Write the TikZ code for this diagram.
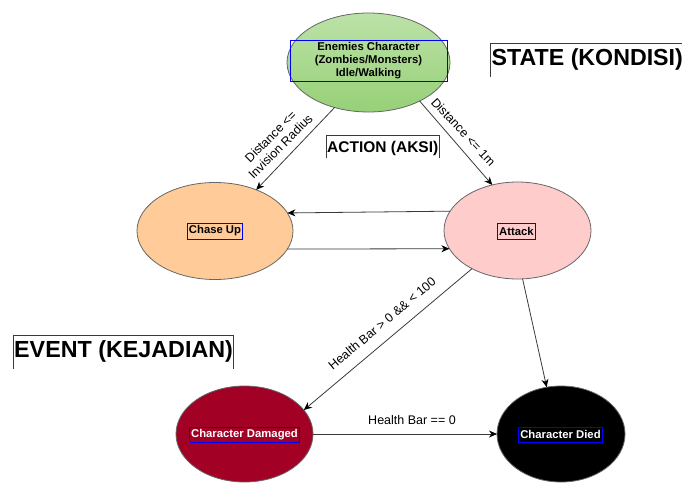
\documentclass[tikz,border=0pt]{standalone}
\usepackage{fontspec}
\setmainfont{Liberation Sans}
\usetikzlibrary{shapes.geometric,arrows.meta}
\definecolor{greentop}{HTML}{BCE2A8}
\definecolor{greenbot}{HTML}{97D077}
\definecolor{chasefill}{HTML}{FFCC99}
\definecolor{attackfill}{HTML}{FFCCCC}
\definecolor{damfill}{HTML}{A20025}
\definecolor{edgegray}{HTML}{666666}
\definecolor{linegray}{HTML}{3A3A3A}
\definecolor{txtbox}{HTML}{0000FF}
\begin{document}
\begin{tikzpicture}[x=1pt,y=-1pt,
  ell/.style={ellipse, draw=edgegray, line width=0.8pt, inner sep=0pt, outer sep=0pt},
  tbox/.style={draw=txtbox, line width=0.9pt, inner xsep=1.5pt, inner ysep=1pt, minimum height=16pt,
    font=\fontsize{11.3}{13}\selectfont\bfseries, align=center},
  conn/.style={draw=linegray, line width=0.8pt, -{Stealth[length=8pt,width=7pt,inset=2.5pt,black]}},
  lbl/.style={font=\fontsize{12.5}{14}\selectfont, inner sep=0pt, align=center},
  head/.style={anchor=base west, inner sep=0pt, font=\bfseries},
  hline/.style={draw=linegray, line width=0.9pt}]
\useasboundingbox (0,0) rectangle (682,482);

% ellipses
\node[ell, minimum width=163pt, minimum height=99pt, top color=greentop, bottom color=greenbot] (g) at (368.5,62.5) {};
\node[ell, minimum width=156pt, minimum height=97pt, fill=chasefill] (c) at (215,231) {};
\node[ell, minimum width=147pt, minimum height=97pt, fill=attackfill] (a) at (517.5,230.5) {};
\node[ell, minimum width=137pt, minimum height=96pt, fill=damfill] (d) at (244.5,434) {};
\node[ell, minimum width=128pt, minimum height=96pt, fill=black] (x) at (561,434) {};

% text boxes
\node[tbox, minimum width=157pt, minimum height=41pt] (gt) at (368.5,60.5) {Enemies Character\\(Zombies/Monsters)\\Idle/Walking};
\node[tbox] (ct) at (215,231) {Chase Up};
\node[tbox] (at) at (516.5,231) {Attack};
\node[tbox, text=white, minimum height=15pt] (dt) at (244.5,434.5) {Character Damaged};
\node[tbox, text=white, minimum height=15pt] (xt) at (560.5,434.5) {Character Died};

% connectors
\draw[conn] (g.233.6) -- (c.45.3);
\draw[conn] (g.-37.1) -- (a.119.7);
\draw[conn] (a.164.7) -- (c.14.8);
\draw[conn] (c.-14.4) -- (a.195.7);
\draw[conn] (a.220.2) -- (d.22.3);
\draw[conn] (a.-84) -- (x.107.4);
\draw[conn] (d.east) -- (x.west);

% connector labels
\node[lbl, rotate=45] (l1) at (275.5,141.5) {Distance <=\\Invision Radius};
\node[lbl, rotate=-47] (l2) at (463.5,132) {Distance <= 1m};
\node[lbl, rotate=40] (l3) at (382,323.5) {Health Bar > 0 \&\& < 100};
\node[lbl] (l4) at (412,420) {Health Bar == 0};

% headings
\node[head, font=\fontsize{23.2}{27}\selectfont\bfseries] (state) at (491.5,65) {STATE (KONDISI)};
\draw[hline] (490,77) -- (490,43) -- (682,43);
\node[head, font=\fontsize{15.5}{18}\selectfont\bfseries] (action) at (327,152) {ACTION (AKSI)};
\draw[hline] (326,158) -- (326,135) -- (439,135) -- (439,158);
\node[head, font=\fontsize{23.3}{27}\selectfont\bfseries] (event) at (14,357) {EVENT (KEJADIAN)};
\draw[hline] (13,369) -- (13,335) -- (233,335) -- (233,369);
\end{tikzpicture}
\end{document}
